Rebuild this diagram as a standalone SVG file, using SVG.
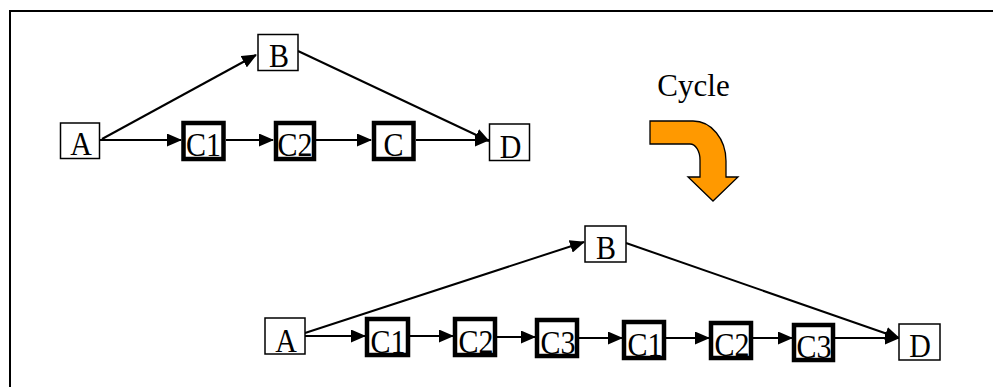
<svg xmlns="http://www.w3.org/2000/svg" width="993" height="387" viewBox="0 0 993 387">
<style>
.frame{fill:none;stroke:#000;stroke-width:2}
.thin{fill:#fff;stroke:#000;stroke-width:1.5}
.thick{fill:#fff;stroke:#000;stroke-width:4.5}
.lbl{font-family:"Liberation Serif","Times New Roman",serif;font-size:30px;fill:#000;text-anchor:middle}
.cyc{font-family:"Liberation Serif","Times New Roman",serif;font-size:31px;fill:#000;text-anchor:middle}
.edge{stroke:#000;stroke-width:2;fill:none;marker-end:url(#ah)}
</style>
<defs>
<marker id="ah" viewBox="0 0 15 13" refX="14" refY="6.5" markerWidth="15" markerHeight="13" markerUnits="userSpaceOnUse" orient="auto">
<path d="M0,0 L15,6.5 L0,13 z" fill="#000"/>
</marker>
</defs>
<rect width="993" height="387" fill="#fff"/>
<path class="frame" d="M10,387 L10,11 L993,11"/>

<g id="connectors">
<line class="edge" x1="100" y1="140" x2="181" y2="140"/>
<line class="edge" x1="226" y1="140" x2="273" y2="140"/>
<line class="edge" x1="316" y1="140" x2="371" y2="140"/>
<line class="edge" x1="416" y1="140" x2="489" y2="140"/>
<line class="edge" x1="102" y1="139" x2="256" y2="55"/>
<line class="edge" x1="298" y1="51" x2="489" y2="141"/>

<line class="edge" x1="305" y1="336" x2="365" y2="336"/>
<line class="edge" x1="410" y1="336" x2="453" y2="336"/>
<line class="edge" x1="497" y1="337" x2="535" y2="337"/>
<line class="edge" x1="579" y1="338" x2="622" y2="338"/>
<line class="edge" x1="666" y1="338" x2="709" y2="338"/>
<line class="edge" x1="753" y1="338" x2="792" y2="338"/>
<line class="edge" x1="835" y1="338" x2="899" y2="338"/>
<line class="edge" x1="305" y1="333" x2="584" y2="242"/>
<line class="edge" x1="626" y1="243" x2="899" y2="338"/>
</g>

<g id="top-A"><rect class="thin" x="60.5" y="123" width="39" height="35.5"/><text class="lbl" transform="translate(81,155) scale(1,1.12)">A</text></g>
<g id="top-B"><rect class="thin" x="258" y="34.5" width="40" height="36"/><text class="lbl" transform="translate(279,67) scale(1,1.12)">B</text></g>
<g id="top-C1"><rect class="thick" x="183.5" y="123" width="40" height="36"/><text class="lbl" transform="translate(203.5,156) scale(1,1.12)">C1</text></g>
<g id="top-C2"><rect class="thick" x="276" y="123" width="38" height="36"/><text class="lbl" transform="translate(295,156) scale(1,1.12)">C2</text></g>
<g id="top-C"><rect class="thick" x="374" y="123" width="39.5" height="36"/><text class="lbl" transform="translate(393.5,156) scale(1,1.12)">C</text></g>
<g id="top-D"><rect class="thin" x="489.5" y="124" width="40" height="36.5"/><text class="lbl" transform="translate(510.5,158) scale(1,1.12)">D</text></g>

<g id="cycle">
<text class="cyc" x="693.5" y="96">Cycle</text>
<path d="M650,121 L693,121 A33,40 0 0 1 726,161 L726,177 L738,177 L713,201 L688,177 L700,177 L700,160 A10,16 0 0 0 690,144 L650,144 Z" fill="#FF9900" stroke="#000" stroke-width="1.3"/>
</g>

<g id="bot-A"><rect class="thin" x="265" y="318" width="40" height="36"/><text class="lbl" transform="translate(286,352) scale(1,1.12)">A</text></g>
<g id="bot-B"><rect class="thin" x="585" y="226" width="41" height="36"/><text class="lbl" transform="translate(606,259) scale(1,1.12)">B</text></g>
<g id="bot-C1a"><rect class="thick" x="367" y="319" width="41" height="36"/><text class="lbl" transform="translate(388,353) scale(1,1.12)">C1</text></g>
<g id="bot-C2a"><rect class="thick" x="455" y="319" width="40" height="36"/><text class="lbl" transform="translate(476,353) scale(1,1.12)">C2</text></g>
<g id="bot-C3a"><rect class="thick" x="537" y="320" width="40" height="36"/><text class="lbl" transform="translate(558,354) scale(1,1.12)">C3</text></g>
<g id="bot-C1b"><rect class="thick" x="624" y="322" width="40" height="36"/><text class="lbl" transform="translate(645,356) scale(1,1.12)">C1</text></g>
<g id="bot-C2b"><rect class="thick" x="711" y="323" width="40" height="35"/><text class="lbl" transform="translate(732,356) scale(1,1.12)">C2</text></g>
<g id="bot-C3b"><rect class="thick" x="794" y="325" width="39" height="35"/><text class="lbl" transform="translate(814,358) scale(1,1.12)">C3</text></g>
<g id="bot-D"><rect class="thin" x="899" y="324" width="41" height="36"/><text class="lbl" transform="translate(920,357) scale(1,1.12)">D</text></g>
</svg>
